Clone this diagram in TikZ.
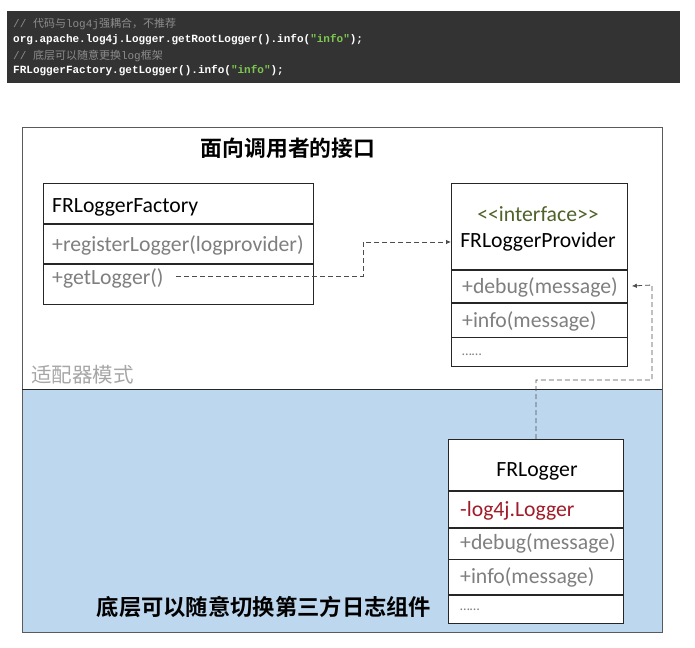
\documentclass[tikz,border=0pt]{standalone}
\usepackage{fontspec}
\setmainfont{Carlito}
\setmonofont{Liberation Mono}
\newfontfamily\cjk{Noto Sans CJK SC}
\newfontfamily\cjkb{Noto Sans CJK SC Bold}
\usetikzlibrary{arrows.meta}
\definecolor{codebg}{HTML}{333333}
\definecolor{cmt}{HTML}{8C8C8C}
\definecolor{codegreen}{HTML}{7EC850}
\definecolor{lowblue}{HTML}{BDD7EE}
\definecolor{framec}{HTML}{5A5A5A}
\definecolor{methgray}{HTML}{7F7F7F}
\definecolor{ifgreen}{HTML}{4F6228}
\definecolor{attrred}{HTML}{A01C28}
\definecolor{patgray}{HTML}{A6A6A6}
\tikzset{
  rowbox/.style={draw=black!85, line width=0.8pt, fill=white, inner sep=0pt, anchor=north west},
  txt/.style={inner sep=0pt, font=\fontsize{21.7}{24}\selectfont},
  meth/.style={txt, text=methgray, anchor=west},
  codeline/.style={inner sep=0pt, anchor=west, font=\fontsize{11}{13}\selectfont},
  conn/.style={draw=black!70, line width=0.8pt, dash pattern=on 5pt off 3pt},
  arr/.style={-{Latex[length=5pt,width=4.5pt]}},
  titletxt/.style={inner sep=0pt, font=\cjkb\fontsize{21.8}{24}\selectfont}
}
\begin{document}
\begin{tikzpicture}[x=1pt,y=-1pt]
\useasboundingbox (0,0) rectangle (695,647);
% code block
\node[fill=codebg, minimum width=673pt, minimum height=72pt, inner sep=0pt, anchor=north west] (code) at (7,11) {};
\node[codeline, text=cmt] (c1) at (13,24) {\ttfamily// \cjk 代码与\ttfamily log4j\cjk 强耦合，不推荐};
\node[codeline, text=white] (c2) at (13,40) {\ttfamily\bfseries org.apache.log4j.Logger.getRootLogger().info(\textcolor{codegreen}{"info"});};
\node[codeline, text=cmt] (c3) at (13,56) {\ttfamily// \cjk 底层可以随意更换\ttfamily log\cjk 框架};
\node[codeline, text=white] (c4) at (13,71) {\ttfamily\bfseries FRLoggerFactory.getLogger().info(\textcolor{codegreen}{"info"});};
% frame
\fill[lowblue] (22,389) rectangle (662,632);
\draw[framec, line width=0.8pt] (22,127) rectangle (662,632);
\draw[black!85, line width=0.8pt] (22,389) -- (662,389);
\node[titletxt] (title) at (288,148) {面向调用者的接口};
\node[inner sep=0pt, anchor=west, text=patgray, font=\cjk\fontsize{20.5}{24}\selectfont] (pat) at (31,375) {适配器模式};
\node[titletxt, font=\cjkb\fontsize{22.3}{24}\selectfont] (bottom) at (264,607) {底层可以随意切换第三方日志组件};
% FRLoggerFactory
\node[rowbox, minimum width=270pt, minimum height=40pt] (facA) at (43,183) {};
\node[rowbox, minimum width=270pt, minimum height=39pt] (facB) at (facA.south west) {};
\node[rowbox, minimum width=270pt, minimum height=40pt] (facC) at (facB.south west) {};
\node[txt, anchor=west] (facAt) at (52,207) {FRLoggerFactory};
\node[meth] (facBt) at (52,245) {+registerLogger(logprovider)};
\node[meth] (facCt) at (52,278) {+getLogger()};
% FRLoggerProvider
\node[rowbox, minimum width=176pt, minimum height=86pt] (provA) at (451,183) {};
\node[rowbox, minimum width=176pt, minimum height=32pt] (provB) at (provA.south west) {};
\node[rowbox, minimum width=176pt, minimum height=34pt] (provC) at (provB.south west) {};
\node[rowbox, minimum width=176pt, minimum height=29pt] (provD) at (provC.south west) {};
\node[txt, text=ifgreen] (provIf) at (538,214) {<{}<interface>{}>};
\node[txt] (provN) at (538,242) {FRLoggerProvider};
\node[meth] (provBt) at (462,287) {+debug(message)};
\node[meth] (provCt) at (462,321) {+info(message)};
\node[meth, font=\fontsize{14}{16}\selectfont] (provDt) at (462,355) {……};
% FRLogger
\node[rowbox, minimum width=175pt, minimum height=51pt] (logA) at (448,439) {};
\node[rowbox, minimum width=175pt, minimum height=36pt] (logB) at (logA.south west) {};
\node[rowbox, minimum width=175pt, minimum height=31pt] (logC) at (logB.south west) {};
\node[rowbox, minimum width=175pt, minimum height=35pt] (logD) at (logC.south west) {};
\node[rowbox, minimum width=175pt, minimum height=28pt] (logE) at (logD.south west) {};
\node[txt] (logN) at (537,471) {FRLogger};
\node[meth, text=attrred] (logBt) at (460,511) {-log4j.Logger};
\node[meth] (logCt) at (460,543) {+debug(message)};
\node[meth] (logDt) at (460,577) {+info(message)};
\node[meth, font=\fontsize{14}{16}\selectfont] (logEt) at (460,610) {……};
% connectors
\coordinate (g1) at (176,276);
\draw[conn, arr] (g1) -- (363,276) -- (363,242) -- (provA.west |- 0,242);
\draw[conn, arr, shorten >=4pt] (logA.north) -- (logA.north |- 0,380) -- (652,380) -- (652,285) -- (provB.east);
\end{tikzpicture}
\end{document}
